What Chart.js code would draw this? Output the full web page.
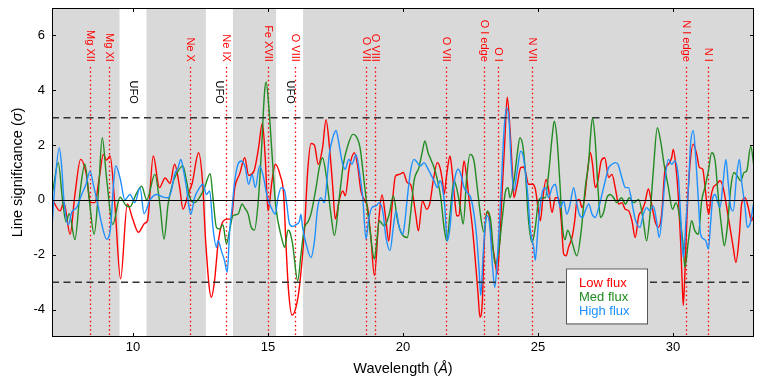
<!DOCTYPE html>
<html>
<head>
<meta charset="utf-8">
<script src="https://cdn.jsdelivr.net/npm/chart.js@4.4.1/dist/chart.umd.min.js"></script>
<style>
  html, body { margin: 0; padding: 0; background: #fff; }
</style>
</head>
<body>
<canvas id="chart" width="763" height="387"></canvas>
<script>
// Axis ticks
const xTicks = [10, 15, 20, 25, 30];
const yTicks = [-4, -2, 0, 2, 4, 6];

// UFO windows (wavelength ranges left white)
const ufoBands = [[9.5, 10.5], [12.7, 13.7], [15.3, 16.3]];

// Marked transitions
const lineNames = ['Mg XII', 'Mg XI', 'Ne X', 'Ne IX', 'Fe XVII', 'O VIII', 'O VII', 'O VIII', 'O VII', 'O I edge', 'O I', 'N VII', 'N I edge', 'N I'];
const lineWaves = [8.40, 9.10, 12.12, 13.45, 15.01, 16.0, 18.64, 18.98, 21.61, 23.0, 23.53, 24.79, 30.47, 31.31];

const seriesNames = ['Low flux', 'Med flux', 'High flux'];
const seriesColors = ['#ff0000', '#228b22', '#1e90ff'];

// [wavelength, significance]
const lowFlux = [[7.0,0.1],[7.05,-0.04],[7.30,-0.4],[7.44,-0.1],[7.67,-1.25],[7.85,0.2],[8.06,1.48],[8.26,1.0],[8.43,-0.1],[8.59,-0.1],[8.75,0.8],[8.90,1.66],[9.02,1.45],[9.15,1.6],[9.33,-0.2],[9.54,-2.88],[9.79,-0.15],[9.99,-0.7],[10.20,-1.18],[10.44,-0.85],[10.54,-0.75],[10.75,1.6],[10.98,0.45],[11.19,0.8],[11.37,0.6],[11.54,1.3],[11.73,0.45],[11.85,-0.34],[12.04,0.2],[12.19,0.6],[12.43,1.72],[12.58,0.6],[12.69,-1.5],[12.90,-3.55],[13.02,-2.95],[13.15,-1.6],[13.30,-0.85],[13.49,-0.7],[13.64,-0.7],[13.77,0.45],[13.95,0.95],[14.14,1.54],[14.28,0.9],[14.48,1.05],[14.65,1.9],[14.79,2.8],[14.90,1.5],[15.0,-0.4],[15.15,0.7],[15.27,1.3],[15.45,0.9],[15.58,0.2],[15.66,-1.5],[15.76,-3.3],[15.89,-4.2],[16.04,-3.9],[16.16,-3.2],[16.35,-1.1],[16.47,1.05],[16.59,2.06],[16.72,2.0],[16.86,1.3],[17.02,1.9],[17.15,2.93],[17.27,2.0],[17.40,0.45],[17.49,-0.7],[17.64,0.0],[17.77,0.33],[17.86,0.15],[18.01,1.18],[18.20,1.72],[18.32,1.24],[18.44,0.33],[18.57,0.0],[18.69,-0.28],[18.81,-1.37],[18.94,-2.76],[19.10,-0.76],[19.22,0.18],[19.37,-0.76],[19.47,-1.5],[19.59,-0.28],[19.72,0.87],[19.86,0.93],[20.01,1.0],[20.16,0.63],[20.28,0.57],[20.47,-0.52],[20.57,-1.13],[20.72,-0.04],[20.88,-0.34],[21.0,-0.1],[21.12,0.7],[21.27,1.36],[21.37,1.18],[21.46,0.7],[21.52,0.2],[21.62,0.93],[21.74,1.6],[21.83,0.93],[21.91,0.08],[21.99,-0.58],[22.07,-0.58],[22.16,0.45],[22.26,1.42],[22.36,0.82],[22.44,0.08],[22.57,-1.0],[22.69,-2.34],[22.78,-3.43],[22.85,-4.28],[22.94,-3.67],[23.0,-1.73],[23.10,-0.46],[23.18,-0.52],[23.27,-1.37],[23.39,-2.1],[23.49,-2.7],[23.59,-1.37],[23.68,0.45],[23.77,2.15],[23.86,3.75],[23.96,2.63],[24.05,1.06],[24.11,0.08],[24.23,0.57],[24.36,1.18],[24.45,1.2],[24.53,1.06],[24.65,0.57],[24.80,0.57],[24.90,0.4],[25.0,-0.28],[25.09,-0.76],[25.17,-0.04],[25.30,0.75],[25.39,0.4],[25.52,-0.46],[25.64,0.08],[25.76,0.08],[25.86,-0.76],[25.95,-1.97],[26.04,-2.04],[26.13,-1.73],[26.26,-1.37],[26.36,-0.76],[26.44,-0.04],[26.53,0.02],[26.63,-0.28],[26.73,0.08],[26.81,0.82],[26.94,1.72],[27.02,1.3],[27.12,0.45],[27.22,0.7],[27.34,1.42],[27.47,1.54],[27.62,0.82],[27.74,0.93],[27.86,0.45],[27.99,-0.15],[28.11,-0.1],[28.23,-0.34],[28.36,-0.4],[28.48,-0.76],[28.60,-1.37],[28.73,-0.58],[28.85,-0.4],[28.96,-0.1],[29.09,0.4],[29.21,-0.15],[29.33,-0.76],[29.46,-1.0],[29.58,-0.52],[29.70,1.06],[29.83,1.3],[29.95,1.54],[30.01,1.84],[30.11,1.18],[30.20,0.08],[30.28,-1.49],[30.34,-3.0],[30.38,-3.85],[30.44,-2.7],[30.51,-0.76],[30.61,1.06],[30.75,2.03],[30.88,1.66],[30.98,1.18],[31.10,1.12],[31.19,0.45],[31.27,-0.28],[31.33,-0.52],[31.40,0.08],[31.49,0.45],[31.62,0.57],[31.74,0.7],[31.86,0.45],[31.99,-0.28],[32.11,-1.0],[32.23,-1.73],[32.33,-2.28],[32.46,-1.25],[32.54,-0.15],[32.67,0.08],[32.79,-0.28],[32.91,-0.76],[33.0,-0.52]];

const medFlux = [[7.0,0.2],[7.05,0.45],[7.23,1.36],[7.40,-0.1],[7.52,-0.8],[7.64,-0.5],[7.85,-1.45],[8.04,0.3],[8.22,1.3],[8.38,0.0],[8.56,-1.25],[8.72,0.3],[8.86,2.27],[9.02,0.8],[9.25,-0.9],[9.52,0.1],[9.74,-0.2],[9.89,-0.25],[10.11,0.2],[10.32,0.5],[10.51,0.0],[10.81,0.93],[11.0,-0.2],[11.15,-1.43],[11.30,-0.15],[11.48,0.63],[11.60,0.93],[11.85,1.24],[11.98,0.7],[12.10,0.1],[12.28,-0.1],[12.47,0.1],[12.65,0.45],[12.86,0.96],[12.96,0.1],[13.09,-1.0],[13.21,-1.06],[13.33,-0.9],[13.46,-1.6],[13.58,-1.1],[13.70,-0.58],[13.89,-0.52],[14.04,-0.15],[14.14,-0.3],[14.26,-0.5],[14.38,-1.0],[14.50,-1.1],[14.63,-0.15],[14.75,1.66],[14.87,3.9],[14.93,4.3],[15.03,3.4],[15.15,1.66],[15.28,-0.15],[15.50,-1.37],[15.62,-1.73],[15.74,-1.1],[15.79,-1.13],[15.91,-1.6],[16.10,-2.95],[16.22,-2.0],[16.35,-1.0],[16.47,-0.82],[16.59,-0.52],[16.78,0.45],[16.90,1.18],[17.02,1.54],[17.15,0.93],[17.33,-0.52],[17.46,-1.3],[17.64,0.08],[17.79,1.3],[17.95,1.96],[18.14,2.39],[18.26,2.33],[18.41,1.9],[18.53,0.93],[18.63,0.08],[18.78,-1.13],[18.94,-2.16],[19.02,-1.6],[19.12,-0.76],[19.31,-0.95],[19.49,-0.52],[19.64,0.15],[19.80,-0.76],[19.96,-1.25],[20.16,-1.37],[20.28,-0.52],[20.41,0.7],[20.59,1.18],[20.72,1.78],[20.81,2.15],[20.93,1.72],[21.03,1.48],[21.15,1.18],[21.27,0.75],[21.40,0.08],[21.52,-1.0],[21.62,-1.49],[21.74,-0.52],[21.89,0.7],[22.01,0.33],[22.14,-0.4],[22.23,-0.88],[22.36,0.82],[22.48,1.66],[22.63,1.42],[22.75,0.45],[22.90,-0.76],[23.0,-1.19],[23.12,-0.4],[23.25,-0.76],[23.37,-2.1],[23.43,-2.34],[23.56,-1.73],[23.68,-0.64],[23.80,0.33],[23.89,0.45],[23.96,0.08],[24.11,0.7],[24.23,1.66],[24.33,2.27],[24.45,1.9],[24.53,1.05],[24.65,-0.76],[24.78,-1.55],[24.90,-1.0],[25.02,-0.04],[25.15,0.08],[25.27,0.08],[25.39,0.93],[25.52,2.27],[25.60,2.87],[25.70,2.27],[25.80,0.8],[25.90,-0.9],[26.0,-1.45],[26.10,-1.1],[26.25,-1.5],[26.44,-2.04],[26.60,-1.13],[26.75,0.45],[26.88,1.42],[26.94,2.27],[27.02,3.0],[27.12,2.15],[27.22,0.45],[27.31,-0.64],[27.43,-0.45],[27.55,0.08],[27.68,0.2],[27.80,0.08],[27.92,-0.1],[28.09,0.08],[28.24,-0.15],[28.38,0.08],[28.54,-0.1],[28.73,0.02],[28.90,-0.76],[29.02,-1.49],[29.15,-0.52],[29.27,1.05],[29.42,2.63],[29.54,2.15],[29.67,1.3],[29.83,0.45],[29.98,-0.34],[30.11,-0.1],[30.23,-0.52],[30.36,-1.49],[30.44,-2.46],[30.57,-1.49],[30.69,-0.76],[30.81,-1.13],[30.94,-1.25],[31.06,-0.04],[31.18,0.45],[31.31,1.05],[31.43,1.72],[31.56,1.42],[31.68,0.08],[31.80,-1.0],[31.90,-1.67],[32.01,-1.0],[32.14,0.45],[32.26,1.0],[32.38,0.87],[32.51,0.7],[32.63,1.0],[32.73,1.06],[32.88,1.96],[33.0,1.2]];

const highFlux = [[7.0,-1.0],[7.11,0.6],[7.27,1.9],[7.36,1.2],[7.44,0.0],[7.61,-0.9],[7.73,-0.45],[7.91,-0.28],[8.10,0.2],[8.26,0.57],[8.41,1.05],[8.53,0.57],[8.68,-0.1],[8.84,-0.88],[9.02,-1.43],[9.17,-1.0],[9.27,0.45],[9.36,1.24],[9.52,0.8],[9.70,0.0],[9.89,0.2],[10.07,-0.1],[10.26,0.45],[10.41,-0.5],[10.63,0.0],[10.88,0.2],[11.12,0.1],[11.30,0.08],[11.42,0.33],[11.54,0.93],[11.67,1.18],[11.77,1.48],[11.85,1.18],[11.98,0.45],[12.06,-0.15],[12.14,-0.52],[12.28,0.08],[12.47,0.45],[12.59,0.57],[12.72,0.2],[12.84,0.33],[12.96,-1.0],[13.09,-1.73],[13.15,-1.49],[13.27,-1.85],[13.39,-2.22],[13.49,-2.64],[13.58,-1.13],[13.67,-0.28],[13.77,0.7],[13.89,1.3],[14.01,1.42],[14.16,1.18],[14.28,0.57],[14.41,0.93],[14.53,0.45],[14.69,1.24],[14.81,0.93],[14.98,0.08],[15.12,-0.28],[15.27,-0.52],[15.37,0.08],[15.49,0.45],[15.62,0.33],[15.70,-0.2],[15.79,-0.85],[15.91,-0.97],[16.04,-0.9],[16.16,-0.8],[16.22,-0.52],[16.28,-1.0],[16.41,-1.6],[16.59,-2.1],[16.72,-1.5],[16.84,-0.28],[16.96,0.08],[17.09,-0.1],[17.17,0.57],[17.27,1.66],[17.40,2.27],[17.52,2.53],[17.62,2.1],[17.74,1.42],[17.86,1.12],[17.99,1.48],[18.11,1.3],[18.26,1.66],[18.38,1.06],[18.51,0.08],[18.63,-1.43],[18.73,-0.7],[18.85,-0.28],[19.0,-0.22],[19.12,-0.1],[19.25,-0.4],[19.37,-1.37],[19.52,-1.85],[19.64,-1.0],[19.74,-0.4],[19.86,-1.0],[19.99,-1.25],[20.06,-0.88],[20.16,0.08],[20.28,1.06],[20.41,1.48],[20.53,1.36],[20.65,1.24],[20.78,1.36],[20.90,1.18],[21.03,0.93],[21.15,0.7],[21.27,0.45],[21.37,0.7],[21.46,0.45],[21.54,-0.15],[21.64,-1.49],[21.74,-1.0],[21.83,0.08],[21.95,0.93],[22.05,1.12],[22.16,0.87],[22.26,0.45],[22.38,0.27],[22.51,0.08],[22.63,-0.52],[22.73,-1.37],[22.82,-2.58],[22.88,-3.49],[22.97,-1.97],[23.06,-0.76],[23.12,-0.58],[23.22,-1.0],[23.31,-2.34],[23.40,-3.19],[23.49,-2.2],[23.62,0.08],[23.74,2.5],[23.84,3.36],[23.93,2.87],[24.01,1.3],[24.11,0.33],[24.23,1.06],[24.36,1.78],[24.45,1.6],[24.53,1.06],[24.63,0.08],[24.72,-1.13],[24.84,-1.73],[24.90,-2.2],[25.0,-1.0],[25.09,-0.15],[25.17,0.33],[25.27,0.45],[25.39,0.08],[25.52,0.45],[25.64,0.57],[25.74,0.08],[25.83,-0.28],[25.95,-0.04],[26.07,-0.52],[26.20,-0.1],[26.32,0.45],[26.44,-0.15],[26.53,-0.52],[26.65,-0.64],[26.75,-0.4],[26.88,-0.15],[27.0,-0.52],[27.12,-0.64],[27.25,-0.28],[27.37,0.2],[27.49,0.7],[27.62,1.18],[27.74,1.3],[27.86,1.36],[27.96,1.3],[28.11,0.8],[28.24,0.45],[28.35,0.45],[28.48,-0.1],[28.60,-0.7],[28.78,-1.0],[28.90,-0.52],[29.02,-0.28],[29.15,-0.4],[29.27,-0.22],[29.39,-0.76],[29.49,-1.37],[29.62,-0.28],[29.70,0.7],[29.83,1.48],[29.95,1.3],[30.07,1.42],[30.20,0.82],[30.28,-0.52],[30.38,-2.1],[30.48,-0.76],[30.57,0.45],[30.65,2.03],[30.75,2.53],[30.85,1.42],[30.94,-0.04],[31.02,-1.25],[31.15,-1.43],[31.22,-1.5],[31.31,-1.79],[31.40,-0.76],[31.47,0.08],[31.56,0.2],[31.64,-0.04],[31.74,-0.28],[31.86,0.7],[31.96,1.48],[32.05,0.57],[32.14,-0.28],[32.23,-0.4],[32.36,0.93],[32.46,1.48],[32.54,0.7],[32.67,-0.28],[32.75,-1.0],[32.85,-0.88],[32.98,-0.15]];

const FONT = '"Liberation Sans", Arial, Helvetica, sans-serif';

// Draws gray panel, UFO bands, transition markers, reference lines, frame, ticks, legend, titles
const decorPlugin = {
    id: 'decor',
    beforeDatasetsDraw(chart) {
        const { ctx, chartArea: a, scales: { x, y } } = chart;
        ctx.save();
        ctx.fillStyle = '#d9d9d9';
        ctx.fillRect(a.left, a.top, a.right - a.left, a.bottom - a.top);

        ctx.fillStyle = '#ffffff';
        ufoBands.forEach(([lo, hi]) => {
            const x0 = x.getPixelForValue(lo), x1 = x.getPixelForValue(hi);
            ctx.fillRect(x0, a.top, x1 - x0, a.bottom - a.top);
        });

        // UFO labels
        ctx.fillStyle = '#000';
        ctx.font = '11px ' + FONT;
        ctx.textAlign = 'center';
        ctx.textBaseline = 'middle';
        ufoBands.forEach(([lo, hi]) => {
            ctx.save();
            ctx.translate(x.getPixelForValue((lo + hi) / 2), y.getPixelForValue(3.93));
            ctx.rotate(Math.PI / 2);
            ctx.fillText('UFO', 0, 0);
            ctx.restore();
        });

        // transition markers
        ctx.strokeStyle = '#ff0000';
        ctx.lineWidth = 1.3;
        ctx.setLineDash([1.5, 2.8]);
        lineWaves.forEach((w) => {
            const px = Math.round(x.getPixelForValue(w)) + 0.5;
            ctx.beginPath();
            ctx.moveTo(px, y.getPixelForValue(4.85));
            ctx.lineTo(px, a.bottom);
            ctx.stroke();
        });
        ctx.setLineDash([]);
        ctx.fillStyle = '#ff0000';
        ctx.textAlign = 'right';
        lineWaves.forEach((w, i) => {
            ctx.save();
            ctx.translate(x.getPixelForValue(w), y.getPixelForValue(5.0) - 1);
            ctx.rotate(Math.PI / 2);
            ctx.fillText(lineNames[i], 0, 0);
            ctx.restore();
        });
        ctx.restore();
    },
    afterDatasetsDraw(chart) {
        const { ctx, chartArea: a, scales: { x, y } } = chart;
        ctx.save();

        // zero and +/-3 sigma lines
        ctx.strokeStyle = '#000';
        ctx.lineWidth = 1;
        const y0 = Math.round(y.getPixelForValue(0)) + 0.5;
        ctx.beginPath(); ctx.moveTo(a.left, y0); ctx.lineTo(a.right, y0); ctx.stroke();
        ctx.strokeStyle = '#333';
        ctx.lineWidth = 1.5;
        ctx.setLineDash([7, 4.5]);
        [3, -3].forEach((v) => {
            const py = y.getPixelForValue(v);
            ctx.beginPath(); ctx.moveTo(a.left, py); ctx.lineTo(a.right, py); ctx.stroke();
        });
        ctx.setLineDash([]);

        // frame and inward ticks
        ctx.strokeStyle = '#000';
        ctx.lineWidth = 1;
        ctx.strokeRect(a.left + 0.5, a.top + 0.5, a.right - a.left - 1, a.bottom - a.top - 1);
        ctx.beginPath();
        xTicks.forEach((v) => {
            const px = Math.round(x.getPixelForValue(v)) + 0.5;
            ctx.moveTo(px, a.bottom); ctx.lineTo(px, a.bottom - 4);
            ctx.moveTo(px, a.top); ctx.lineTo(px, a.top + 4);
        });
        yTicks.forEach((v) => {
            const py = Math.round(y.getPixelForValue(v)) + 0.5;
            ctx.moveTo(a.left, py); ctx.lineTo(a.left + 4, py);
            ctx.moveTo(a.right, py); ctx.lineTo(a.right - 4, py);
        });
        ctx.stroke();

        // legend box
        const lx = a.right - 188, ly = y.getPixelForValue(-2.5), lw = 81, lh = 55;
        ctx.fillStyle = '#fff';
        ctx.fillRect(lx, ly, lw, lh);
        ctx.strokeStyle = '#555';
        ctx.strokeRect(lx + 0.5, ly + 0.5, lw, lh);
        ctx.font = '13px ' + FONT;
        ctx.textAlign = 'left';
        ctx.textBaseline = 'middle';
        seriesNames.forEach((name, i) => {
            ctx.fillStyle = seriesColors[i];
            ctx.fillText(name, lx + 13, ly + 14.5 + i * 14);
        });

        // axis titles with italic symbols
        const drawParts = (parts) => {
            let total = 0;
            parts.forEach((p) => { ctx.font = p[1] + FONT; total += ctx.measureText(p[0]).width; });
            let cx = -total / 2;
            parts.forEach((p) => {
                ctx.font = p[1] + FONT;
                ctx.fillText(p[0], cx, 0);
                cx += ctx.measureText(p[0]).width;
            });
        };
        ctx.fillStyle = '#000';
        ctx.textAlign = 'left';
        ctx.textBaseline = 'middle';
        ctx.save();
        ctx.translate((a.left + a.right) / 2, 369);
        drawParts([['Wavelength (', '14.5px '], ['Å', 'italic 14.5px '], [')', '14.5px ']]);
        ctx.restore();
        ctx.save();
        ctx.translate(18, (a.top + a.bottom) / 2);
        ctx.rotate(-Math.PI / 2);
        drawParts([['Line significance (', '14.5px '], ['σ', 'italic 14.5px '], [')', '14.5px ']]);
        ctx.restore();

        ctx.restore();
    }
};

const toPoints = (arr) => arr.map(([wx, s]) => ({ x: wx, y: s }));
const allSeries = [lowFlux, medFlux, highFlux];

new Chart(document.getElementById('chart'), {
    type: 'line',
    data: {
        datasets: allSeries.map((s, i) => ({
            label: seriesNames[i],
            data: toPoints(s),
            borderColor: seriesColors[i],
            borderWidth: 1.4,
            pointRadius: 0,
            fill: false,
            cubicInterpolationMode: 'monotone',
            order: 3 - i
        }))
    },
    options: {
        responsive: false,
        animation: false,
        events: [],
        layout: { padding: { left: 0, right: 9, top: 8, bottom: 0 } },
        plugins: { legend: { display: false }, tooltip: { enabled: false } },
        scales: {
            x: {
                type: 'linear',
                min: 7,
                max: 33,
                afterBuildTicks: (s) => { s.ticks = xTicks.map((v) => ({ value: v })); },
                afterFit: (s) => { s.height = 50; s.paddingLeft = 0; s.paddingRight = 0; },
                grid: { display: false, drawTicks: false },
                border: { display: false },
                ticks: { color: '#000', font: { size: 13, family: FONT }, padding: 3, maxRotation: 0 }
            },
            y: {
                type: 'linear',
                min: -5,
                max: 7,
                afterBuildTicks: (s) => { s.ticks = yTicks.map((v) => ({ value: v })); },
                afterFit: (s) => { s.width = 52; s.paddingTop = 0; s.paddingBottom = 0; },
                grid: { display: false, drawTicks: false },
                border: { display: false },
                ticks: { color: '#000', font: { size: 13, family: FONT }, padding: 7 }
            }
        }
    },
    plugins: [decorPlugin]
});
</script>
</body>
</html>
